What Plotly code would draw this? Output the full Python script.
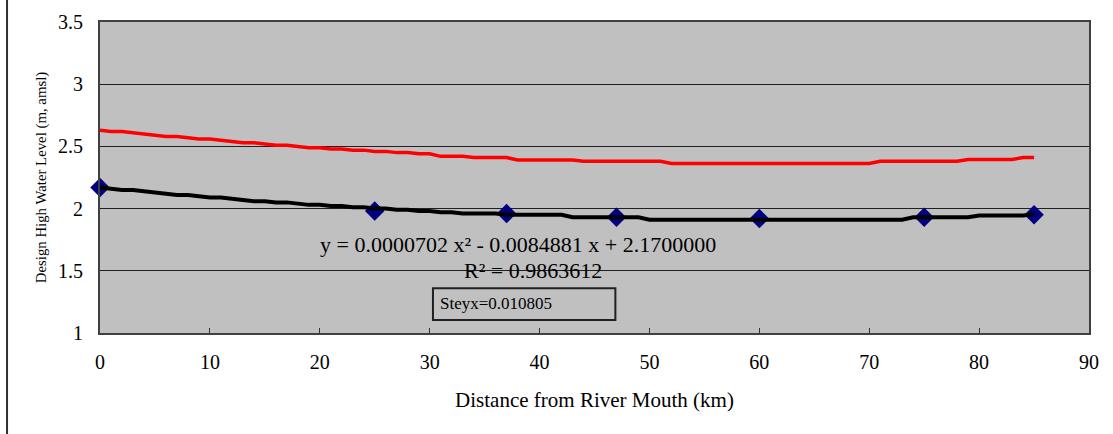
import plotly.graph_objects as go

# ---- data ----
km = list(range(0, 86))
design_level = [2.17, 2.16, 2.15, 2.15, 2.14, 2.13, 2.12, 2.11, 2.11, 2.10,
                2.09, 2.09, 2.08, 2.07, 2.06, 2.06, 2.05, 2.05, 2.04, 2.03,
                2.03, 2.02, 2.02, 2.01, 2.01, 2.00, 2.00, 1.99, 1.99, 1.98,
                1.98, 1.97, 1.97, 1.96, 1.96, 1.96, 1.96, 1.95, 1.95, 1.95,
                1.95, 1.95, 1.95, 1.93, 1.93, 1.93, 1.93, 1.93, 1.93, 1.93,
                1.91, 1.91, 1.91, 1.91, 1.91, 1.91, 1.91, 1.91, 1.91, 1.91,
                1.91, 1.91, 1.91, 1.91, 1.91, 1.91, 1.91, 1.91, 1.91, 1.91,
                1.91, 1.91, 1.91, 1.91, 1.93, 1.93, 1.93, 1.93, 1.93, 1.93,
                1.945, 1.945, 1.945, 1.945, 1.945, 1.955]
upper_level = [2.63, 2.62, 2.62, 2.61, 2.60, 2.59, 2.58, 2.58, 2.57, 2.56,
               2.56, 2.55, 2.54, 2.53, 2.53, 2.52, 2.51, 2.51, 2.50, 2.49,
               2.49, 2.48, 2.48, 2.47, 2.47, 2.46, 2.46, 2.45, 2.45, 2.44,
               2.44, 2.42, 2.42, 2.42, 2.41, 2.41, 2.41, 2.41, 2.39, 2.39,
               2.39, 2.39, 2.39, 2.39, 2.38, 2.38, 2.38, 2.38, 2.38, 2.38,
               2.38, 2.38, 2.363, 2.363, 2.363, 2.363, 2.363, 2.363, 2.363, 2.363,
               2.363, 2.363, 2.363, 2.363, 2.363, 2.363, 2.363, 2.363, 2.363, 2.363,
               2.363, 2.38, 2.38, 2.38, 2.38, 2.38, 2.38, 2.38, 2.38, 2.395,
               2.395, 2.395, 2.395, 2.395, 2.41, 2.41]
obs_km = [0, 25, 37, 47, 60, 75, 85]
obs_level = [2.17, 1.98, 1.96, 1.93, 1.92, 1.93, 1.95]

x_ticks = [0, 10, 20, 30, 40, 50, 60, 70, 80, 90]
y_ticks = [1, 1.5, 2, 2.5, 3, 3.5]

eq_text = "y = 0.0000702 x² - 0.0084881 x + 2.1700000"
r2_text = "R² = 0.9863612"
steyx_text = "Steyx=0.010805"

FONT = "Liberation Serif, Times New Roman, serif"

fig = go.Figure()
fig.add_trace(go.Scatter(x=obs_km, y=obs_level, mode="markers",
                         marker=dict(symbol="diamond", size=15, color="#000080",
                                     line=dict(width=0)),
                         showlegend=False, hoverinfo="skip", cliponaxis=False))
fig.add_trace(go.Scatter(x=km, y=design_level, mode="lines",
                         line=dict(color="black", width=4),
                         showlegend=False, hoverinfo="skip"))
fig.add_trace(go.Scatter(x=km, y=upper_level, mode="lines",
                         line=dict(color="#FF0000", width=3.5),
                         showlegend=False, hoverinfo="skip"))

fig.update_layout(
    width=1113, height=434,
    margin=dict(l=100, r=24, t=22, b=101, autoexpand=False),
    paper_bgcolor="white", plot_bgcolor="#C0C0C0",
    font=dict(family=FONT, color="black", size=20),
    hovermode=False,
    xaxis=dict(range=[0, 90], tickvals=x_ticks, ticks="inside", ticklen=5,
               tickcolor="#333333", showgrid=False, zeroline=False,
               showline=True, linecolor="#404040", linewidth=2, mirror=True,
               ticklabelstandoff=10,
               tickfont=dict(family=FONT, size=20),
               title=dict(text="Distance from River Mouth (km)",
                          font=dict(family=FONT, size=21), standoff=20)),
    yaxis=dict(range=[1, 3.5], tickvals=y_ticks, ticks="", showgrid=True,
               gridcolor="#202020", gridwidth=1, zeroline=False,
               showline=True, linecolor="#404040", linewidth=2, mirror=True,
               ticklabelstandoff=11,
               tickfont=dict(family=FONT, size=20),
               title=dict(text="Design High Water Level (m, amsl)",
                          font=dict(family=FONT, size=14.8), standoff=8)),
    annotations=[
        dict(x=38.0, y=1.715, xref="x", yref="y", text=eq_text, showarrow=False,
             font=dict(family=FONT, size=22), xanchor="center", yanchor="middle"),
        dict(x=39.4, y=1.50, xref="x", yref="y", text=r2_text, showarrow=False,
             font=dict(family=FONT, size=22), xanchor="center", yanchor="middle"),
        dict(x=30.8, y=1.235, xref="x", yref="y", text=steyx_text, showarrow=False,
             font=dict(family=FONT, size=17), xanchor="left", yanchor="middle"),
    ],
    shapes=[
        dict(type="rect", xref="x", yref="y", x0=30.3, x1=46.9, y0=1.105, y1=1.36,
             line=dict(color="#202020", width=2), fillcolor="rgba(0,0,0,0)"),
        dict(type="line", xref="paper", yref="paper", x0=-0.094, x1=-0.094,
             y0=-0.33, y1=1.08, line=dict(color="#303030", width=2)),
    ],
)

fig.write_html("out.html",
               config={"displayModeBar": False, "staticPlot": True},
               post_script="document.body.style.margin='0px';document.body.style.overflow='hidden';")
